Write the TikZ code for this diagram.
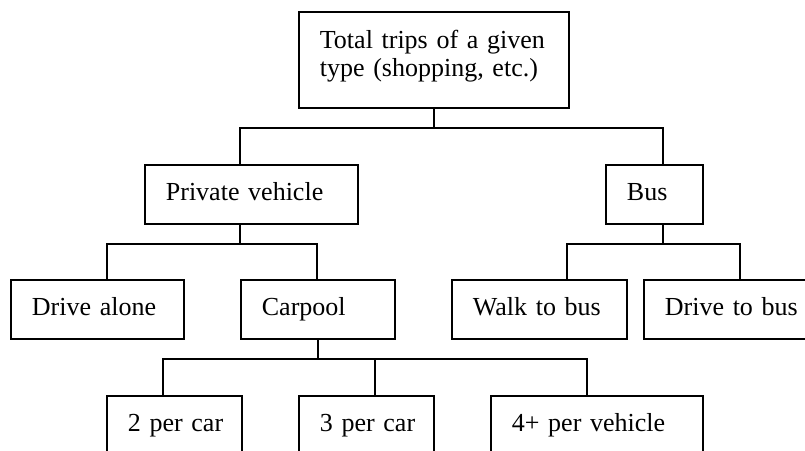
\documentclass[tikz,border=0pt]{standalone}
\usepackage{fontspec}
\setmainfont{Liberation Serif}
\begin{document}
\begin{tikzpicture}[x=1pt,y=-1pt,
  line width=1.8pt,
  every node/.style={font=\fontsize{26}{28}\selectfont},
  box/.style={draw, rectangle, anchor=north west, inner xsep=21pt, inner ysep=0pt,
    align=left, minimum height=59pt, text height=18pt, text depth=5pt},
  bigbox/.style={draw, rectangle, anchor=north west, inner xsep=21pt, inner ysep=0pt,
    align=left, minimum height=96pt, text depth=42pt}]
\useasboundingbox (0,0) rectangle (805,450);
\clip (0,0) rectangle (805,450);
% nodes
\node[bigbox, text width=228pt] (top) at (298,11) {Total trips of a given\\type (shopping, etc.)};
\node[box, text width=171pt] (pv) at (144,164) {\mbox{Private vehicle}};
\node[box, text width=55pt] (bus) at (605,164) {\mbox{Bus}};
\node[box, text width=131pt] (da) at (10,279) {\mbox{Drive alone}};
\node[box, text width=112pt] (cp) at (240,279) {\mbox{Carpool}};
\node[box, text width=133pt] (wb) at (451,279) {\mbox{Walk to bus}};
\node[box, text width=133pt] (db) at (643,279) {\mbox{Drive to bus}};
\node[box, text width=93pt] (p2) at (106,395) {\mbox{2 per car}};
\node[box, text width=93pt] (p3) at (298,395) {\mbox{3 per car}};
\node[box, text width=170pt] (p4) at (490,395) {\mbox{4+ per vehicle}};
% connectors
\draw (top.south) -- ++(0,19) coordinate (j1);
\draw ([xshift=96pt]pv.north west) |- (j1) -| ([xshift=58pt]bus.north west);
\draw ([xshift=96pt]pv.south west) -- ++(0,19) coordinate (j2);
\draw ([xshift=97pt]da.north west) |- (j2) -| ([xshift=77pt]cp.north west);
\draw ([xshift=58pt]bus.south west) -- ++(0,19) coordinate (j3);
\draw ([xshift=116pt]wb.north west) |- (j3) -| ([xshift=97pt]db.north west);
\draw (cp.south) -- ++(0,19) coordinate (j4);
\draw ([xshift=57pt]p2.north west) |- (j4) -| ([xshift=97pt]p4.north west);
\draw ([xshift=77pt]p3.north west) |- (j4);
\end{tikzpicture}
\end{document}
